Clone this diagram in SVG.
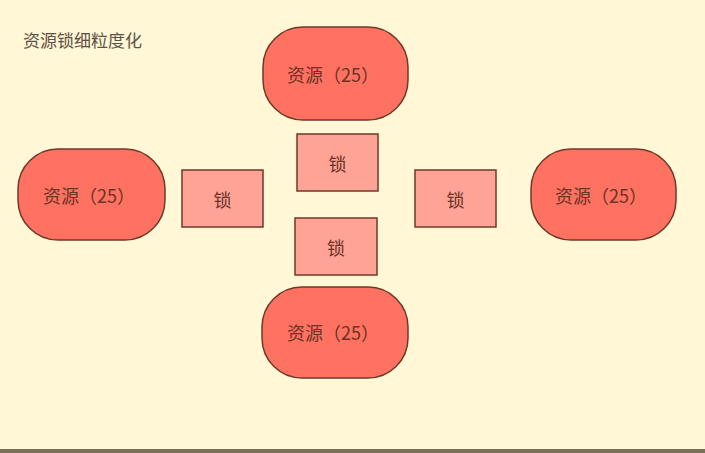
<svg xmlns="http://www.w3.org/2000/svg" width="705" height="453" viewBox="0 0 705 453">
<style>
.res{fill:#ff7261;stroke:#6e3a28;stroke-width:1.5}
.lock{fill:#ffa396;stroke:#6e3a28;stroke-width:1.5}
.t{font-family:"Noto Sans CJK SC","Noto Sans",sans-serif;font-size:18px;fill:#6b3226;text-anchor:middle;dominant-baseline:central}
.title{font-family:"Noto Sans CJK SC","Noto Sans",sans-serif;font-size:17px;fill:#5e5044}
</style>
<rect x="0" y="0" width="705" height="453" fill="#fff7d6"/>
<rect x="0" y="449" width="705" height="4" fill="#7a6e5c"/>
<text class="title" x="23" y="47">资源锁细粒度化</text>
<g id="connectors"></g>
<g id="res-top"><rect class="res" x="263" y="27" width="145" height="93" rx="40"/><text class="t" x="333" y="74">资源（25）</text></g>
<g id="res-left"><rect class="res" x="18" y="149" width="147" height="91" rx="40"/><text class="t" x="89" y="195">资源（25）</text></g>
<g id="res-right"><rect class="res" x="531" y="149" width="145" height="91" rx="40"/><text class="t" x="601" y="195">资源（25）</text></g>
<g id="res-bottom"><rect class="res" x="262" y="287" width="146" height="91" rx="40"/><text class="t" x="333" y="332">资源（25）</text></g>
<g id="lock-left"><rect class="lock" x="182" y="170" width="81" height="57"/><text class="t" x="222.5" y="199">锁</text></g>
<g id="lock-top"><rect class="lock" x="297" y="134" width="81" height="57"/><text class="t" x="337.5" y="163">锁</text></g>
<g id="lock-bottom"><rect class="lock" x="295" y="218" width="82" height="57"/><text class="t" x="336" y="247">锁</text></g>
<g id="lock-right"><rect class="lock" x="415" y="170" width="81" height="57"/><text class="t" x="455.5" y="199">锁</text></g>
</svg>
